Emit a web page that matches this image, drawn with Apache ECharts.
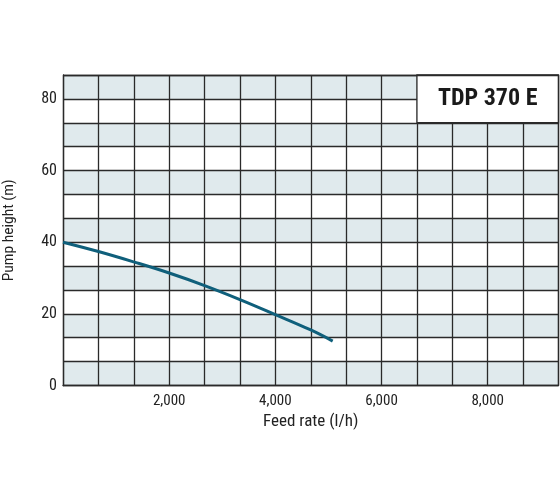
<!DOCTYPE html>
<html>
<head>
<meta charset="utf-8">
<script src="https://cdn.jsdelivr.net/npm/echarts@6/dist/echarts.min.js"></script>
<style>
html,body{margin:0;padding:0;background:#fff;}
#c{width:560px;height:504px;}
</style>
</head>
<body>
<div id="c"></div>
<script>
var feedRate = [0, 667, 1333, 2000, 2667, 3333, 4000, 4667, 5080];
var pumpHeight = [40, 37.4, 34.5, 31.4, 27.9, 24.0, 19.8, 15.5, 12.4];
var xTickLabels = [2000, 4000, 6000, 8000];
var yTickLabels = [0, 20, 40, 60, 80];
var modelName = 'TDP 370 E';
var xName = 'Feed rate (l/h)';
var yName = 'Pump height (m)';

var xStep = 2000 / 3, yStep = 20 / 3;
var xMax = xStep * 14, yMax = yStep * 13;
var FONT = "'Roboto Condensed','DejaVu Sans Condensed',sans-serif";

function inList(v, list) {
  for (var i = 0; i < list.length; i++) if (Math.abs(v - list[i]) < 1e-6) return true;
  return false;
}
function fmtThousands(v) {
  return String(Math.round(v)).replace(/\B(?=(\d{3})+(?!\d))/g, ',');
}

var chart = echarts.init(document.getElementById('c'));
chart.setOption({
  animation: false,
  backgroundColor: '#fff',
  grid: { left: 63, right: 1.5, top: 75, bottom: 118.5, containLabel: false, outerBoundsMode: 'none' },
  xAxis: {
    type: 'value', min: 0, max: xMax, interval: xStep,
    name: xName, nameLocation: 'middle', nameGap: 26,
    nameTextStyle: { fontFamily: FONT, fontSize: 17, color: '#222' },
    axisLine: { show: true, lineStyle: { color: '#2a2a2a', width: 1.3 } },
    axisTick: { show: false },
    axisLabel: {
      fontFamily: FONT, fontSize: 15, color: '#222', margin: 8,
      showMinLabel: true, showMaxLabel: true,
      formatter: function (v) { return inList(v, xTickLabels) ? fmtThousands(v) : ''; }
    },
    splitLine: { show: true, lineStyle: { color: '#2a2a2a', width: 1.3 } }
  },
  yAxis: {
    type: 'value', min: 0, max: yMax, interval: yStep,
    name: yName, nameLocation: 'middle', nameGap: 46, nameRotate: 90,
    nameTextStyle: { fontFamily: FONT, fontSize: 15.5, color: '#222' },
    axisLine: { show: true, lineStyle: { color: '#2a2a2a', width: 1.3 } },
    axisTick: { show: false },
    axisLabel: {
      fontFamily: FONT, fontSize: 16, color: '#222', margin: 6,
      showMinLabel: true, showMaxLabel: true,
      formatter: function (v) { return inList(v, yTickLabels) ? String(Math.round(v)) : ''; }
    },
    splitLine: { show: true, lineStyle: { color: '#2a2a2a', width: 1.3 } },
    splitArea: { show: true, areaStyle: { color: ['#e0eaed', '#ffffff'] } }
  },
  series: [{
    type: 'line',
    data: feedRate.map(function (x, i) { return [x, pumpHeight[i]]; }),
    smooth: 0.4,
    showSymbol: false,
    lineStyle: { color: '#0f5f7b', width: 3 },
    z: 5,
    markArea: {
      silent: true,
      itemStyle: { color: '#ffffff', borderColor: '#2a2a2a', borderWidth: 1.3 },
      label: {
        show: true, position: 'inside',
        fontFamily: FONT, fontWeight: 'bold', fontSize: 24, color: '#1a1a1a'
      },
      data: [[
        { name: modelName, coord: [xStep * 10, yStep * 11] },
        { coord: [xMax, yMax] }
      ]]
    }
  }, {
    type: 'line', data: [], silent: true,
    markLine: {
      silent: true, symbol: 'none', label: { show: false },
      lineStyle: { color: '#2a2a2a', width: 1.3, type: 'solid' },
      data: [
        [{ coord: [0, yMax] }, { coord: [xMax, yMax] }],
        [{ coord: [xMax, 0] }, { coord: [xMax, yMax] }]
      ]
    }
  }]
});
</script>
</body>
</html>
